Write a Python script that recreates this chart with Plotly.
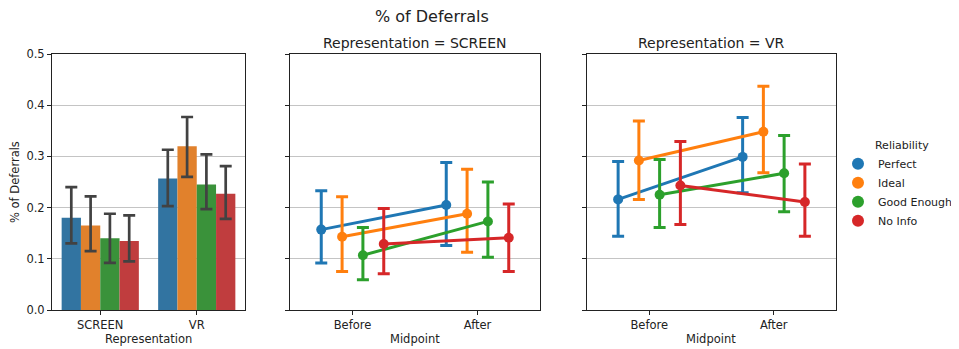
import plotly.graph_objects as go

# ---------------- data ----------------
series = ["Perfect", "Ideal", "Good Enough", "No Info"]
representations = ["SCREEN", "VR"]
midpoints = ["Before", "After"]

# bar panel: mean and CI per representation for each reliability level
bar_mean = {
    "Perfect": [0.180, 0.257],
    "Ideal": [0.165, 0.320],
    "Good Enough": [0.140, 0.245],
    "No Info": [0.135, 0.227],
}
bar_lo = {
    "Perfect": [0.130, 0.203],
    "Ideal": [0.115, 0.260],
    "Good Enough": [0.092, 0.197],
    "No Info": [0.095, 0.178],
}
bar_hi = {
    "Perfect": [0.240, 0.313],
    "Ideal": [0.222, 0.377],
    "Good Enough": [0.188, 0.304],
    "No Info": [0.185, 0.281],
}

# point panels: [Before, After]
screen_mean = {
    "Perfect": [0.157, 0.205],
    "Ideal": [0.143, 0.188],
    "Good Enough": [0.107, 0.173],
    "No Info": [0.129, 0.141],
}
screen_lo = {
    "Perfect": [0.092, 0.126],
    "Ideal": [0.075, 0.113],
    "Good Enough": [0.059, 0.103],
    "No Info": [0.071, 0.075],
}
screen_hi = {
    "Perfect": [0.233, 0.288],
    "Ideal": [0.221, 0.275],
    "Good Enough": [0.161, 0.250],
    "No Info": [0.198, 0.207],
}
vr_mean = {
    "Perfect": [0.216, 0.299],
    "Ideal": [0.292, 0.348],
    "Good Enough": [0.225, 0.267],
    "No Info": [0.243, 0.211],
}
vr_lo = {
    "Perfect": [0.144, 0.229],
    "Ideal": [0.216, 0.268],
    "Good Enough": [0.161, 0.192],
    "No Info": [0.167, 0.144],
}
vr_hi = {
    "Perfect": [0.290, 0.376],
    "Ideal": [0.369, 0.437],
    "Good Enough": [0.294, 0.341],
    "No Info": [0.329, 0.285],
}

y_ticks = [0.0, 0.1, 0.2, 0.3, 0.4, 0.5]

# ---------------- styles ----------------
bar_colors = ["#3274a1", "#e1812c", "#3a923a", "#c03d3e"]
pt_colors = ["#1f77b4", "#ff7f0e", "#2ca02c", "#d62728"]
FONT = "DejaVu Sans"
FS = 11.5
dodge = [-0.25, -0.0833, 0.0833, 0.25]
W, H = 959, 349
OFF = 8  # page body margin
FW, FH = W - OFF, H - OFF


def px(x):
    return (x - OFF) / FW


def py(y):
    return 1 - (y - OFF) / FH


fig = go.Figure()

# bars
for i, s in enumerate(series):
    m = bar_mean[s]
    fig.add_trace(go.Bar(
        x=representations, y=m, name=s, showlegend=False,
        marker=dict(color=bar_colors[i], line=dict(width=0)),
        error_y=dict(type="data", symmetric=False,
                     array=[h - v for h, v in zip(bar_hi[s], m)],
                     arrayminus=[v - l for l, v in zip(bar_lo[s], m)],
                     color="#424242", thickness=2.7, width=6),
        xaxis="x", yaxis="y",
    ))

# point plots
for ax_x, ax_y, means, los, his in [("x2", "y2", screen_mean, screen_lo, screen_hi),
                                    ("x3", "y3", vr_mean, vr_lo, vr_hi)]:
    for i, s in enumerate(series):
        m = means[s]
        xs = [k + dodge[i] for k in range(len(midpoints))]
        fig.add_trace(go.Scatter(
            x=xs, y=m, mode="lines+markers", name=s, showlegend=False,
            line=dict(color=pt_colors[i], width=3),
            marker=dict(color=pt_colors[i], size=10),
            error_y=dict(type="data", symmetric=False,
                         array=[h - v for h, v in zip(his[s], m)],
                         arrayminus=[v - l for l, v in zip(los[s], m)],
                         color=pt_colors[i], thickness=3, width=6),
            xaxis=ax_x, yaxis=ax_y,
        ))

# legend entries
for i, s in enumerate(series):
    fig.add_trace(go.Scatter(
        x=[None], y=[None], mode="markers", name=s,
        marker=dict(color=pt_colors[i], size=11),
        xaxis="x3", yaxis="y3", showlegend=True,
    ))

ydom = [py(310), py(54)]
common_x = dict(showline=True, mirror=True, linecolor="#222", linewidth=1,
                ticks="outside", ticklen=4, tickcolor="#222", showgrid=False,
                zeroline=False, tickfont=dict(size=FS, color="#222"), automargin=False)
common_y = dict(range=[0, 0.5], tickvals=y_ticks, showline=True, mirror=True,
                linecolor="#222", linewidth=1, ticks="outside", ticklen=4,
                tickcolor="#222", showgrid=True, gridcolor="#c4c4c4", gridwidth=1,
                zeroline=False, domain=ydom, tickfont=dict(size=FS, color="#222"),
                tickformat=".1f", automargin=False)


def ann(text, x, y, size, angle=0):
    return dict(text=text, x=px(x), y=py(y), xref="paper", yref="paper",
                showarrow=False, font=dict(size=size, color="#222"), textangle=angle,
                xanchor="center", yanchor="middle")


fig.update_layout(
    width=FW, height=FH,
    margin=dict(l=0, r=0, t=0, b=0, autoexpand=False),
    paper_bgcolor="white", plot_bgcolor="white",
    font=dict(family=FONT, color="#222"),
    barmode="group", bargap=0.2, bargroupgap=0,
    xaxis=dict(domain=[px(52), px(245)], anchor="y", type="category",
               range=[-0.5, 1.5], **common_x),
    yaxis=dict(anchor="x", **common_y),
    xaxis2=dict(domain=[px(290), px(540)], anchor="y2", range=[-0.5, 1.5],
                tickvals=[0, 1], ticktext=midpoints, **common_x),
    yaxis2=dict(anchor="x2", showticklabels=False, **common_y),
    xaxis3=dict(domain=[px(587), px(836)], anchor="y3", range=[-0.5, 1.5],
                tickvals=[0, 1], ticktext=midpoints, **common_x),
    yaxis3=dict(anchor="x3", showticklabels=False, **common_y),
    legend=dict(x=px(838), y=py(135), xanchor="left", yanchor="top",
                title=dict(text="          Reliability", font=dict(size=11)),
                font=dict(size=11), bgcolor="rgba(0,0,0,0)", itemsizing="constant",
                itemwidth=30, tracegroupgap=0),
    annotations=[
        ann("% of Deferrals", 432, 17, 16),
        ann("Representation = SCREEN", 415, 43, 14),
        ann("Representation = VR", 711, 43, 14),
        ann("% of Deferrals", 15, 182, FS, -90),
        ann("Representation", 148, 339, FS),
        ann("Midpoint", 415, 339, FS),
        ann("Midpoint", 711, 339, FS),
    ],
)

fig.write_html("out.html")
